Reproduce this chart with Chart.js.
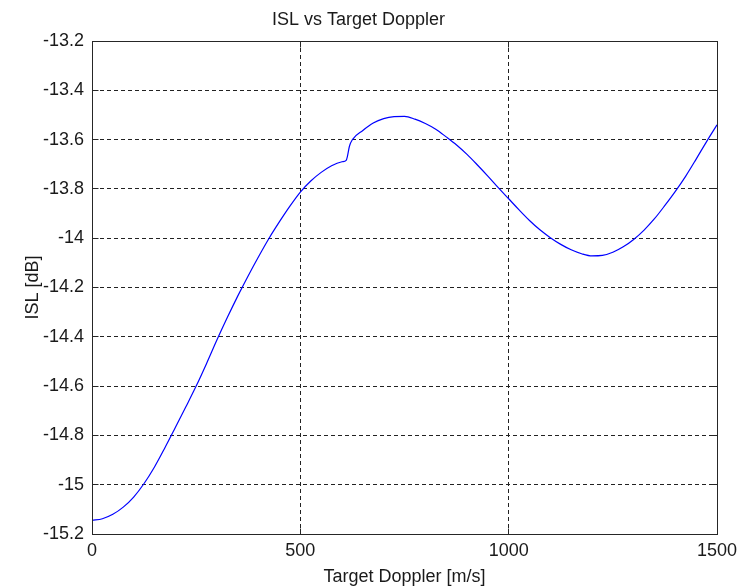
<!DOCTYPE html>
<html>
<head>
<meta charset="utf-8">
<title>ISL vs Target Doppler</title>
<script src="https://cdn.jsdelivr.net/npm/chart.js@4/dist/chart.umd.min.js"></script>
<style>
  html, body { margin: 0; padding: 0; background: #ffffff; }
  canvas { display: block; }
</style>
</head>
<body>
<canvas id="chart" width="741" height="588"></canvas>
<script>
// Target Doppler velocity [m/s]
const doppler = [
  0, 25, 50, 75, 100, 125, 150, 175, 200, 225, 250, 275, 300, 325, 350, 375,
  400, 425, 450, 475, 500, 525, 550, 575, 600, 610, 613, 618, 625, 650, 675,
  700, 725, 750, 775, 800, 825, 850, 875, 900, 925, 950, 975, 1000, 1025,
  1050, 1075, 1100, 1125, 1150, 1175, 1200, 1225, 1250, 1275, 1300, 1325,
  1350, 1375, 1400, 1425, 1450, 1475, 1500
];

// Integrated sidelobe level [dB]
const isl = [
  -15.145, -15.138, -15.120, -15.091, -15.050, -14.995, -14.928, -14.850,
  -14.768, -14.685, -14.600, -14.508, -14.412, -14.321, -14.234, -14.152,
  -14.074, -14.000, -13.933, -13.870, -13.813, -13.768, -13.733, -13.706,
  -13.690, -13.684, -13.668, -13.626, -13.600, -13.563, -13.533, -13.515,
  -13.507, -13.506, -13.517, -13.535, -13.558, -13.589, -13.622, -13.660,
  -13.703, -13.748, -13.795, -13.840, -13.885, -13.928, -13.966, -13.998,
  -14.025, -14.047, -14.063, -14.072, -14.070, -14.057, -14.035, -14.005,
  -13.967, -13.921, -13.867, -13.810, -13.748, -13.679, -13.608, -13.540
];

// Axis ticks
const xTicks = [0, 500, 1000, 1500];
const xTickLabels = ['0', '500', '1000', '1500'];
const yTicks = [-15.2, -15, -14.8, -14.6, -14.4, -14.2, -14, -13.8, -13.6, -13.4, -13.2];
const yTickLabels = ['-15.2', '-15', '-14.8', '-14.6', '-14.4', '-14.2', '-14', '-13.8', '-13.6', '-13.4', '-13.2'];

const FONT = 'Liberation Sans, Arial, sans-serif';
const TEXT = '#1a1a1a';
const AXIS = '#262626';

// Same pixel snapping Chart.js uses for 1px grid lines
const snap = p => Math.round(p - 0.5) + 0.5;

// Closed axes box with inward tick marks on all four sides
const boxAndTicks = {
  id: 'boxAndTicks',
  afterDraw(chart) {
    const { ctx, scales: { x, y } } = chart;
    const len = 6;
    const L = snap(x.getPixelForValue(xTicks[0]));
    const R = snap(x.getPixelForValue(xTicks[xTicks.length - 1]));
    const B = snap(y.getPixelForValue(yTicks[0]));
    const T = snap(y.getPixelForValue(yTicks[yTicks.length - 1]));
    ctx.save();
    ctx.strokeStyle = AXIS;
    ctx.lineWidth = 1;
    ctx.beginPath();
    xTicks.forEach(v => {
      const px = snap(x.getPixelForValue(v));
      ctx.moveTo(px, B); ctx.lineTo(px, B - len);
      ctx.moveTo(px, T); ctx.lineTo(px, T + len);
    });
    yTicks.forEach(v => {
      const py = snap(y.getPixelForValue(v));
      ctx.moveTo(L, py); ctx.lineTo(L + len, py);
      ctx.moveTo(R, py); ctx.lineTo(R - len, py);
    });
    ctx.rect(L, T, R - L, B - T);
    ctx.stroke();
    ctx.restore();
  }
};

new Chart(document.getElementById('chart'), {
  type: 'line',
  data: {
    datasets: [{
      data: doppler.map((d, i) => ({ x: d, y: isl[i] })),
      borderColor: '#0000ff',
      borderWidth: 1.2,
      pointRadius: 0,
      fill: false,
      cubicInterpolationMode: 'monotone'
    }]
  },
  options: {
    responsive: false,
    devicePixelRatio: 1,
    animation: false,
    layout: { padding: { left: 0, right: 24, top: 0, bottom: 0 } },
    plugins: {
      legend: { display: false },
      tooltip: { enabled: false },
      title: {
        display: true,
        text: 'ISL vs Target Doppler',
        color: TEXT,
        font: { family: FONT, size: 18, weight: 'normal' },
        padding: { top: 9, bottom: 10.4 }
      }
    },
    scales: {
      x: {
        type: 'linear',
        min: 0,
        max: 1500,
        afterBuildTicks: s => { s.ticks = xTicks.map(v => ({ value: v })); },
        afterFit: s => { s.height = 54; s.paddingLeft = 0; s.paddingRight = 0; },
        ticks: {
          color: TEXT,
          padding: 6,
          maxRotation: 0,
          font: { family: FONT, size: 18 },
          callback: (v, i) => xTickLabels[i]
        },
        grid: { color: '#222222', lineWidth: 1, drawTicks: false },
        border: { display: true, color: AXIS, width: 1, dash: [4, 3] },
        title: {
          display: true,
          text: 'Target Doppler [m/s]',
          color: TEXT,
          font: { family: FONT, size: 18 },
          padding: { top: 0, bottom: 0 }
        }
      },
      y: {
        type: 'linear',
        min: -15.2,
        max: -13.2,
        afterBuildTicks: s => { s.ticks = yTicks.map(v => ({ value: v })); },
        afterFit: s => { s.width = 92; s.paddingTop = 0; s.paddingBottom = 0; },
        ticks: {
          color: TEXT,
          padding: 8,
          font: { family: FONT, size: 18 },
          callback: (v, i) => yTickLabels[i]
        },
        grid: { color: '#222222', lineWidth: 1, drawTicks: false },
        border: { display: true, color: AXIS, width: 1, dash: [4, 3] },
        title: {
          display: true,
          text: 'ISL [dB]',
          color: TEXT,
          font: { family: FONT, size: 18 },
          padding: { top: 22, bottom: 0 }
        }
      }
    }
  },
  plugins: [boxAndTicks]
});
</script>
</body>
</html>
